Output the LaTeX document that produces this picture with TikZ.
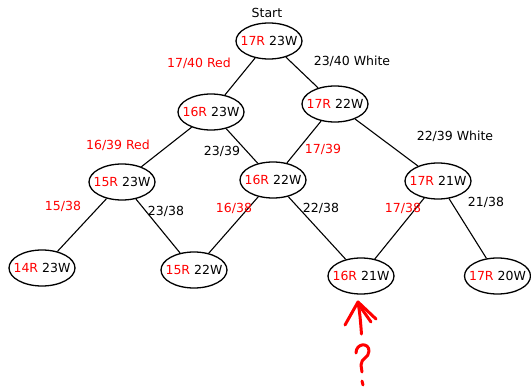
\documentclass[tikz,border=0pt]{standalone}
\usepackage{fontspec}
\setmainfont{DejaVu Sans}
\usetikzlibrary{shapes.geometric}
\begin{document}
\begin{tikzpicture}[x=1pt,y=-1pt,
  st/.style={ellipse,draw,line width=1.3pt,minimum width=66pt,minimum height=36pt,inner xsep=-5.5pt,inner ysep=0pt,font=\fontsize{12.5}{14}\selectfont},
  lbl/.style={font=\fontsize{12.5}{14}\selectfont,inner sep=0pt},
  rlbl/.style={lbl,text=red},
  edge/.style={line width=1.1pt},
  pen/.style={red,line width=3pt,line cap=round,line join=round}]
\useasboundingbox (0,0) rectangle (531,389);
\newcommand{\rw}[2]{\textcolor{red}{#1}~#2}
\node[st] (S) at (269,41) {\rw{17R}{23W}};
\node[st] (A) at (211,112) {\rw{16R}{23W}};
\node[st] (B) at (335,104) {\rw{17R}{22W}};
\node[st] (C) at (122,182) {\rw{15R}{23W}};
\node[st] (D) at (273,180) {\rw{16R}{22W}};
\node[st] (E) at (438,181) {\rw{17R}{21W}};
\node[st] (F) at (42,268) {\rw{14R}{23W}};
\node[st] (G) at (194,270) {\rw{15R}{22W}};
\node[st] (H) at (361,276) {\rw{16R}{21W}};
\node[st] (I) at (497.5,276) {\rw{17R}{20W}};

\draw[edge] (S) -- (A);
\draw[edge] (S) -- (B);
\draw[edge] (A) -- (C);
\draw[edge] (A) -- (D);
\draw[edge] (B) -- (D);
\draw[edge] (B) -- (E);
\draw[edge] (C) -- (F);
\draw[edge] (C) -- (G);
\draw[edge] (D) -- (G);
\draw[edge] (D) -- (H);
\draw[edge] (E) -- (H);
\draw[edge] (E) -- (I);

\node[lbl] (t0) at (267,13) {Start};
\node[rlbl] (t1) at (199,63) {17/40 Red};
\node[lbl] (t2) at (352,61) {23/40 White};
\node[rlbl] (t3) at (118,145) {16/39 Red};
\node[lbl] (t4) at (222,151) {23/39};
\node[rlbl] (t5) at (323,149) {17/39};
\node[lbl] (t6) at (455,136) {22/39 White};
\node[rlbl] (t7) at (63,206) {15/38};
\node[lbl] (t8) at (166,211) {23/38};
\node[rlbl] (t9) at (234,208) {16/38};
\node[lbl] (t10) at (321,208) {22/38};
\node[rlbl] (t11) at (403,208) {17/38};
\node[lbl] (t12) at (486,202) {21/38};

% hand-drawn arrow and question mark
\coordinate (tip) at (358,302);
\draw[pen] (tip) .. controls (360,315) .. (361.5,334);
\draw[pen] (tip) -- (345,325);
\draw[pen] (tip) -- (376,319);
\draw[pen] (359,305) -- (371,322);
\draw[pen] (356,353) .. controls (356,343) and (369,342) .. (369,351)
  .. controls (369,358) and (361,358) .. (361,365) -- (362,372);
\draw[pen] (362,381) -- (363,385);
\end{tikzpicture}
\end{document}
